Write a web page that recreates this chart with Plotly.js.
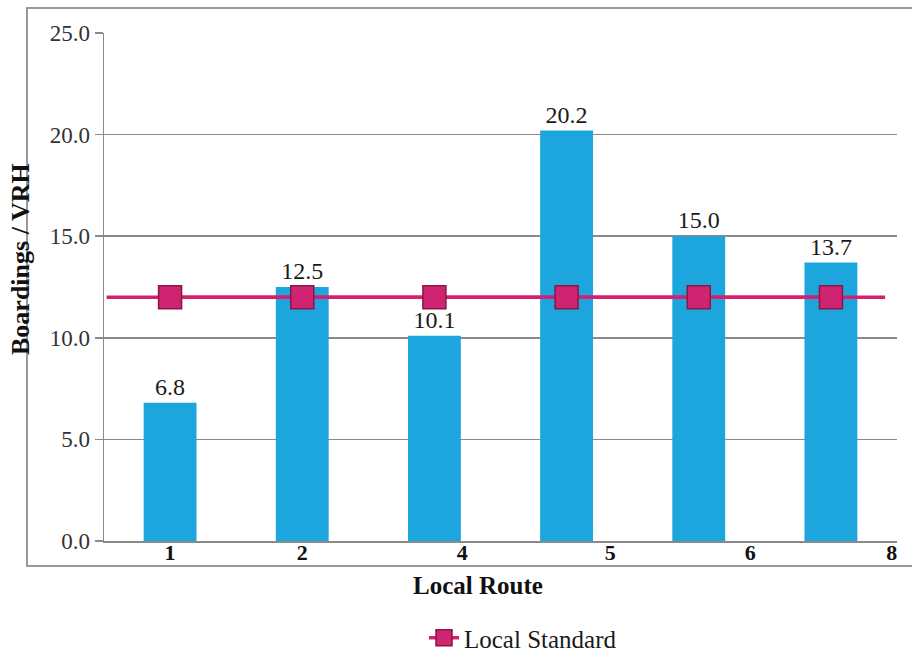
<!DOCTYPE html>
<html>
<head>
<meta charset="utf-8">
<script src="https://cdn.plot.ly/plotly-3.0.1.min.js"></script>
<style>
  html, body { margin: 0; padding: 0; background: #ffffff; }
  #chart { width: 912px; height: 654px; }
</style>
</head>
<body>
<div id="chart"></div>
<script>
// Routes and their boardings per vehicle revenue hour
const routes = ['1', '2', '4', '5', '6', '8'];
const boardings = [6.8, 12.5, 10.1, 20.2, 15.0, 13.7];
// Local service standard (boardings / VRH)
const localStandard = [12.0, 12.0, 12.0, 12.0, 12.0, 12.0];
const yTicks = [0, 5, 10, 15, 20, 25];

const SERIF = 'Liberation Serif';
const BAR_BLUE = '#1DA6DE';
const MAGENTA = '#D61F6E';

const idx = routes.map((_, i) => i);

// Horizontal placement of the route labels beneath the axis
const labelShift = [0, 0, 0.21, 0.33, 0.39, 0.46];
const labelPos = idx.map((i) => i + labelShift[i]);

// The standard line runs almost the whole width of the plot
const lineReachLeft = 0.48;
const lineReachRight = 0.41;

const bars = {
  type: 'bar',
  x: idx,
  y: boardings,
  text: boardings.map((v) => v.toFixed(1)),
  textposition: 'outside',
  cliponaxis: false,
  textfont: { family: SERIF, size: 24, color: '#1a1a1a' },
  marker: { color: BAR_BLUE },
  width: 0.4,
  showlegend: false,
  hoverinfo: 'skip'
};

const standardReach = {
  type: 'scatter',
  mode: 'lines',
  x: [idx[0] - lineReachLeft, idx[idx.length - 1] + lineReachRight],
  y: [localStandard[0], localStandard[localStandard.length - 1]],
  line: { color: MAGENTA, width: 3.5 },
  showlegend: false,
  hoverinfo: 'skip'
};

const standard = {
  type: 'scatter',
  mode: 'lines+markers',
  name: 'Local Standard',
  x: idx,
  y: localStandard,
  line: { color: MAGENTA, width: 3.5 },
  marker: {
    symbol: 'square',
    size: 23,
    color: '#CE2472',
    line: { color: '#8A1646', width: 1.5 }
  }
};

// Plot area spans 104..897 px horizontally and 33..541 px vertically
const L = 104, R = 15, T = 33, B = 113;
const W = 912 - L - R, H = 654 - T - B;
const px2x = (px) => (px - L) / W;
const px2y = (py) => (654 - B - py) / H;

const layout = {
  width: 912,
  height: 654,
  margin: { l: L, r: R, t: T, b: B, autoexpand: false },
  paper_bgcolor: '#ffffff',
  plot_bgcolor: '#ffffff',
  font: { family: SERIF, color: '#1a1a1a' },
  xaxis: {
    range: [-0.5, 5.5],
    tickvals: labelPos,
    ticktext: routes,
    tickfont: { family: SERIF, size: 22, color: '#111111', weight: 'bold' },
    ticks: '',
    ticklabelstandoff: -9,
    showgrid: false,
    zeroline: false,
    showline: true,
    linecolor: '#8a8a8a',
    linewidth: 2,
    automargin: false,
    fixedrange: true
  },
  yaxis: {
    range: [0, 25],
    tickvals: yTicks,
    tickformat: '.1f',
    tickfont: { family: SERIF, size: 23, color: '#333333' },
    ticks: 'outside',
    ticklen: 8,
    tickcolor: '#8a8a8a',
    tickwidth: 1.5,
    showgrid: true,
    gridcolor: '#8a8a8a',
    gridwidth: 1.5,
    zeroline: false,
    showline: true,
    linecolor: '#8a8a8a',
    linewidth: 1.5,
    automargin: false,
    fixedrange: true
  },
  legend: {
    orientation: 'h',
    x: px2x(424),
    xanchor: 'left',
    y: px2y(638),
    yanchor: 'middle',
    font: { family: SERIF, size: 25, color: '#1a1a1a' },
    bgcolor: 'rgba(0,0,0,0)'
  },
  annotations: [
    {
      text: 'Local Route',
      xref: 'paper', yref: 'paper',
      x: px2x(478), y: px2y(585),
      xanchor: 'center', yanchor: 'middle',
      showarrow: false,
      font: { family: SERIF, size: 25, color: '#111111', weight: 'bold' }
    },
    {
      text: 'Boardings / VRH',
      xref: 'paper', yref: 'paper',
      x: px2x(20), y: px2y(259),
      xanchor: 'center', yanchor: 'middle',
      textangle: -90,
      showarrow: false,
      font: { family: SERIF, size: 26, color: '#111111', weight: 'bold' }
    }
  ],
  shapes: [
    {
      type: 'rect',
      xref: 'paper', yref: 'paper',
      x0: px2x(27), x1: px2x(930),
      y0: px2y(566), y1: px2y(8),
      line: { color: '#9a9a9a', width: 2 },
      fillcolor: 'rgba(0,0,0,0)',
      layer: 'below'
    }
  ],
  showlegend: true
};

Plotly.newPlot('chart', [bars, standardReach, standard], layout, {
  displayModeBar: false,
  staticPlot: true
});
</script>
</body>
</html>
